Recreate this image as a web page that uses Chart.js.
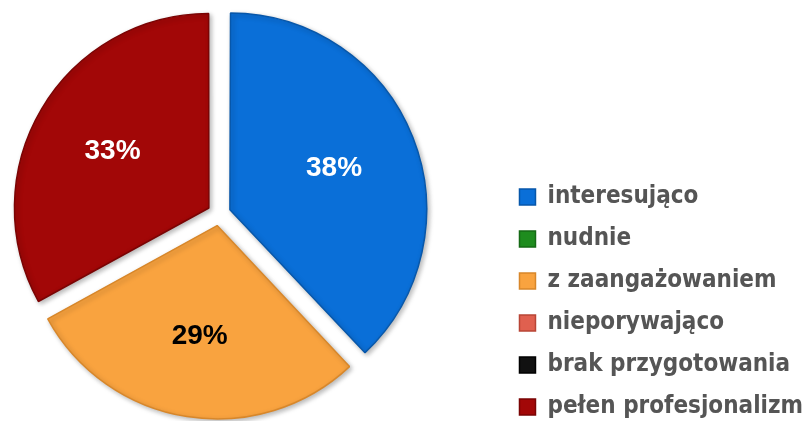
<!DOCTYPE html>
<html>
<head>
<meta charset="utf-8">
<script src="https://cdn.jsdelivr.net/npm/chart.js@4/dist/chart.umd.min.js"></script>
<style>
  html, body { margin: 0; padding: 0; background: #ffffff; }
  #wrap { width: 805px; height: 421px; position: relative; }
</style>
</head>
<body>
<div id="wrap"><canvas id="chart-pie"></canvas></div>
<script>
var categories = ["interesująco", "nudnie", "z zaangażowaniem", "nieporywająco", "brak przygotowania", "pełen profesjonalizm"];
var shares = [38, 0, 29, 0, 0, 33];
var sliceColors = ["#0A6FD8", "#1E8C1E", "#F9A33F", "#E0604F", "#111111", "#A20707"];
var edgeColors = ["#0757AA", "#156A15", "#D8872A", "#B84536", "#000000", "#7A0404"];
var labelColors = ["#ffffff", "#ffffff", "#000000", "#ffffff", "#ffffff", "#ffffff"];

var SLICE_OFFSET = 47;

// pie sits left of the legend with a wide gap, so narrow the plot area
var pieArea = {
    id: "pieArea",
    afterLayout: function (chart) {
        var a = chart.chartArea;
        a.left = 0;
        a.right = 438;
        a.width = 438;
        a.top = 7;
        a.bottom = 421;
        a.height = 414;
        chart.legend.left += 8;
        chart.legend.right += 8;
    },
    beforeDatasetsDraw: function (chart) {
        var c = chart.ctx;
        c.save();
        c.shadowColor = "rgba(0,0,0,0.28)";
        c.shadowBlur = 5;
        c.shadowOffsetX = 2;
        c.shadowOffsetY = 2;
    },
    afterDatasetsDraw: function (chart) {
        chart.ctx.restore();
    }
};

// percent labels drawn in the middle of each slice
var sliceLabels = {
    id: "sliceLabels",
    afterDatasetsDraw: function (chart) {
        var ctx = chart.ctx;
        var meta = chart.getDatasetMeta(0);
        ctx.save();
        ctx.font = "bold 28px 'Liberation Sans', Arial, sans-serif";
        ctx.textAlign = "center";
        ctx.textBaseline = "middle";
        meta.data.forEach(function (arc, i) {
            if (!shares[i]) return;
            var mid = (arc.startAngle + arc.endAngle) / 2;
            var d = SLICE_OFFSET / 4 + arc.outerRadius * 0.58;
            ctx.fillStyle = labelColors[i];
            ctx.fillText(shares[i] + "%", arc.x + Math.cos(mid) * d, arc.y + Math.sin(mid) * d);
        });
        ctx.restore();
    }
};

var ctx = document.getElementById("chart-pie").getContext("2d");

new Chart(ctx, {
    type: "pie",
    data: {
        labels: categories,
        datasets: [{
            data: shares,
            backgroundColor: sliceColors,
            borderColor: edgeColors,
            borderWidth: 1.5,
            offset: SLICE_OFFSET
        }]
    },
    options: {
        responsive: true,
        maintainAspectRatio: false,
        animation: false,
        radius: 193,
        layout: {
            padding: { left: 0, right: 0, top: -9, bottom: -16 }
        },
        plugins: {
            tooltip: { enabled: false },
            legend: {
                display: true,
                position: "right",
                align: "end",
                labels: {
                    boxWidth: 16,
                    boxHeight: 16,
                    padding: 18,
                    color: "#555555",
                    font: {
                        size: 24,
                        weight: "bold",
                        family: "'DejaVu Sans Condensed', 'Liberation Sans Narrow', sans-serif"
                    }
                }
            }
        }
    },
    plugins: [pieArea, sliceLabels]
});
</script>
</body>
</html>
